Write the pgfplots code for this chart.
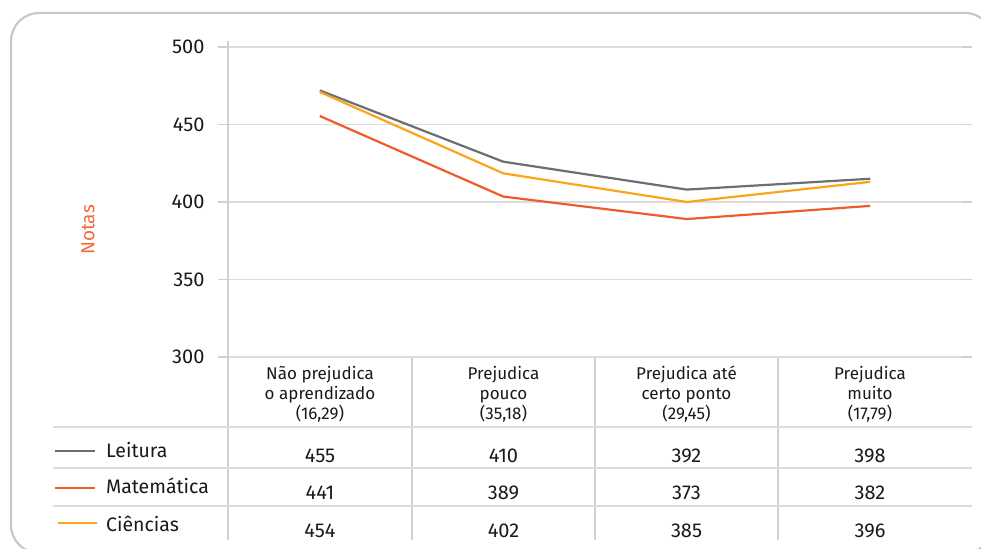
\documentclass[border=0pt]{standalone}
\usepackage{fontspec}
\setmainfont{Fira Sans}
\usepackage{pgfplots}
\pgfplotsset{compat=1.18}
\definecolor{cLeit}{HTML}{6D6E71}
\definecolor{cMat}{HTML}{F15A29}
\definecolor{cCie}{HTML}{FAA61A}
\definecolor{cGrid}{HTML}{DCDCDC}
\definecolor{cAxis}{HTML}{D0D0D0}
\definecolor{cFrame}{HTML}{C8C8C8}
\definecolor{cNotas}{HTML}{F26B3A}
\begin{document}
\begin{tikzpicture}
\useasboundingbox (0pt,0pt) rectangle (981pt,-548pt);
% frame
\draw[cFrame, line width=2.2pt, rounded corners=28pt] (11pt,-13pt) rectangle (993pt,-553pt);
\begin{axis}[
  at={(228pt,-357pt)}, anchor=south west,
  scale only axis, width=734pt, height=310pt,
  xmin=-0.5, xmax=3.5, ymin=300, ymax=500,
  ytick={300,350,400,450,500}, xtick=\empty,
  axis line style={draw=none},
  ymajorgrids, grid style={cGrid, line width=1.3pt},
  tick align=outside, major tick length=10pt,
  ytick style={cAxis, line width=1.5pt},
  /pgf/number format/assume math mode=true,
  yticklabel style={font=\fontsize{20}{22}\selectfont, text=black!90, xshift=-10pt},
  clip=false,
]
\addplot[cLeit, line width=2.2pt] coordinates {(0,472) (1,426) (2,408) (3,415)};
\addplot[cCie, line width=2.2pt] coordinates {(0,471) (1,418.5) (2,400) (3,413)};
\addplot[cMat, line width=2.2pt] coordinates {(0,455.5) (1,403.5) (2,389) (3,397.5)};
\end{axis}
% axis line and table separators
\draw[cAxis, line width=1.8pt] (228pt,-41pt) -- (228pt,-540pt);
\foreach \x in {412,595,778} \draw[cAxis, line width=1.8pt] (\x pt,-358pt) -- (\x pt,-540pt);
\foreach \y in {427,468,506} \draw[cGrid, line width=1.6pt] (53pt,-\y pt) -- (972pt,-\y pt);
% Notas label
\node[rotate=90, text=cNotas, font=\fontsize{19}{22}\selectfont] at (88pt,-230pt) {Notas};
% headers
\begin{scope}[every node/.style={align=center, font=\fontsize{17}{20}\selectfont, text=black!90}]
\node at (320pt,-394pt) {Não prejudica\\o aprendizado\\(16,29)};
\node at (503.5pt,-394pt) {Prejudica\\pouco\\(35,18)};
\node at (686.5pt,-394pt) {Prejudica até\\certo ponto\\(29,45)};
\node at (870pt,-394pt) {Prejudica\\muito\\(17,79)};
\end{scope}
% legend
\draw[cLeit, line width=2.4pt] (55pt,-451pt) -- (95pt,-451pt);
\draw[cMat, line width=2.4pt] (55pt,-488pt) -- (95pt,-488pt);
\draw[cCie, line width=2.4pt] (58pt,-523pt) -- (97pt,-523pt);
\begin{scope}[every node/.style={font=\fontsize{19.5}{22}\selectfont, text=black!90, inner sep=0pt}]
\node[anchor=base west] at (106pt,-457pt) {Leitura};
\node[anchor=base west] at (106pt,-493pt) {Matemática};
\node[anchor=base west] at (106pt,-531pt) {Ciências};
\end{scope}
% numbers
\begin{scope}[every node/.style={font=\fontsize{20}{22}\selectfont, text=black!90, inner sep=0pt, anchor=base}]
\node at (320pt,-462pt) {455}; \node at (503.5pt,-462pt) {410}; \node at (686.5pt,-462pt) {392}; \node at (870pt,-462pt) {398};
\node at (320pt,-499pt) {441}; \node at (503.5pt,-499pt) {389}; \node at (686.5pt,-499pt) {373}; \node at (870pt,-499pt) {382};
\node at (320pt,-537pt) {454}; \node at (503.5pt,-537pt) {402}; \node at (686.5pt,-537pt) {385}; \node at (870pt,-537pt) {396};
\end{scope}
\end{tikzpicture}
\end{document}
